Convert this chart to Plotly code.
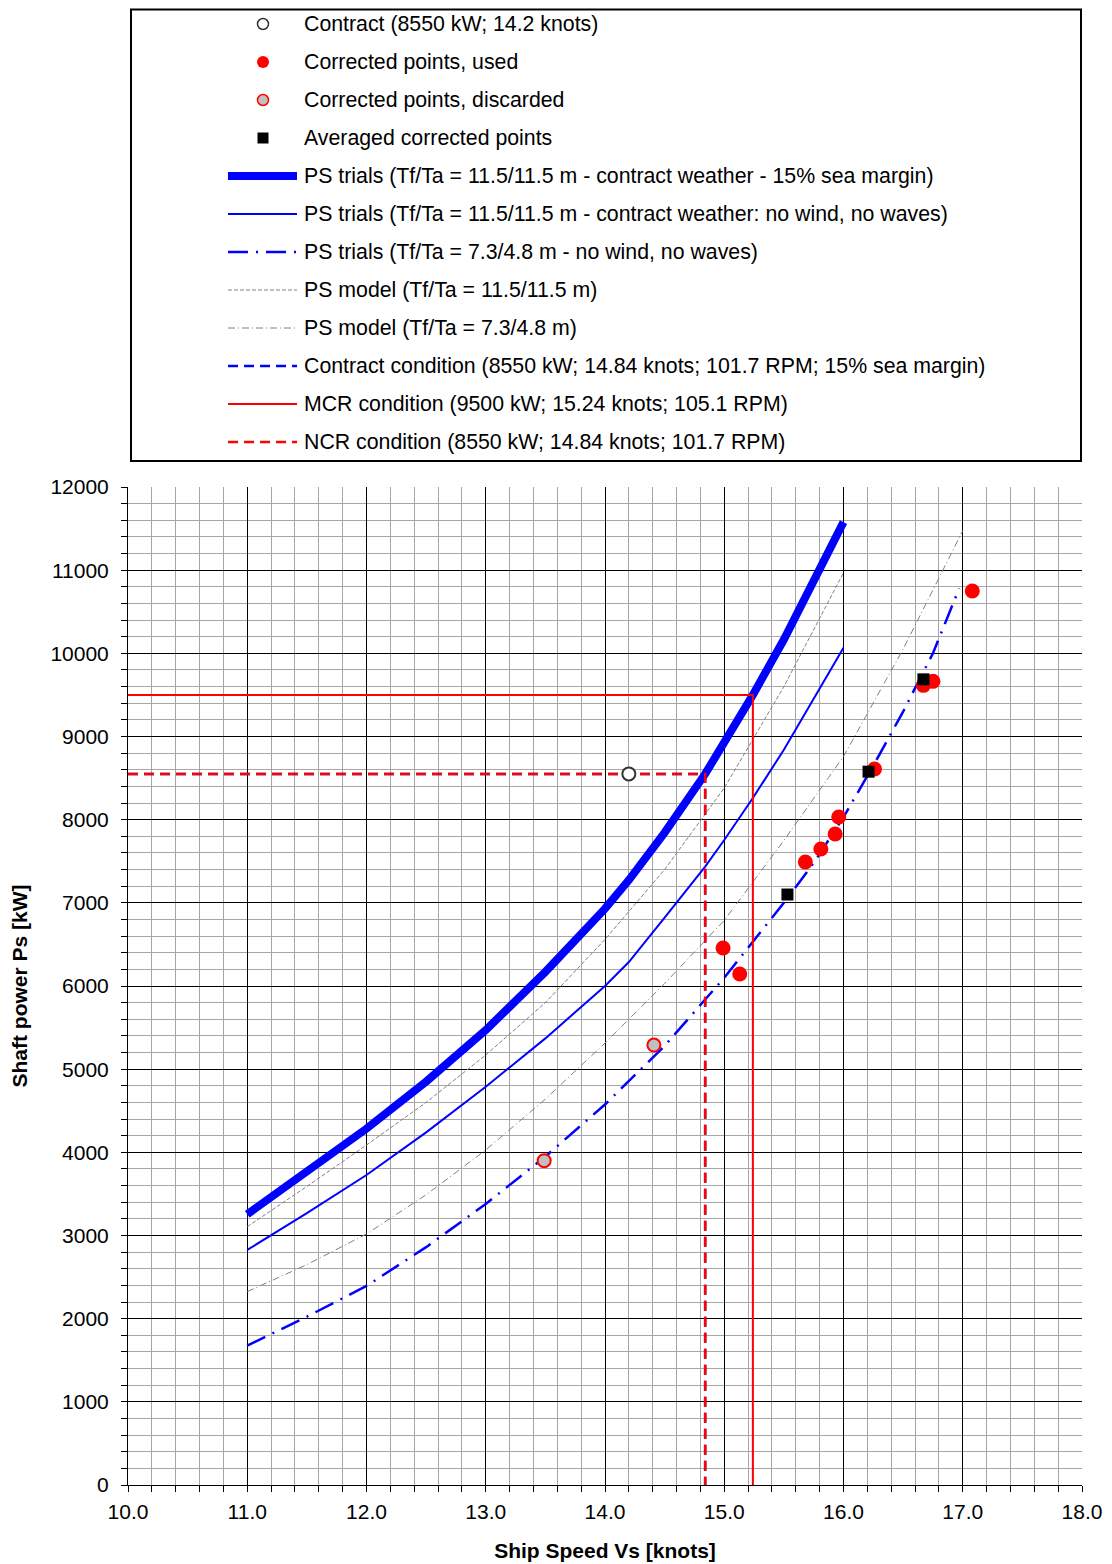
import plotly.graph_objects as go

# ---------------- data ----------------
trial_speed = [11.0, 11.5, 12.0, 12.5, 13.0, 13.5, 14.0, 14.2, 14.5, 14.84, 15.0, 15.24, 15.5, 16.0]
trial_sea_margin = [3255, 3760, 4285, 4850, 5470, 6170, 6930, 7274, 7845, 8550, 8918, 9500, 10166, 11577]
trial_calm = [2826, 3270, 3727, 4240, 4789, 5370, 6000, 6288, 6822, 7435, 7755, 8261, 8840, 10067]

ballast_speed = [11.0, 11.5, 12.0, 12.5, 13.0, 13.5, 14.0, 14.5, 15.0, 15.5, 15.75, 16.0, 16.25, 16.5, 16.75, 16.97]
ballast_trial = [1675, 2024, 2393, 2860, 3379, 3950, 4575, 5280, 6100, 7000, 7480, 8030, 8650, 9300, 10000, 10780]

model_design_speed = [11.0, 11.5, 12.0, 12.5, 13.0, 13.5, 14.0, 14.5, 15.0, 15.5, 16.0]
model_design = [3106, 3590, 4088, 4600, 5170, 5800, 6560, 7400, 8380, 9600, 10970]

model_ballast_speed = [11.0, 11.5, 12.0, 12.5, 13.0, 13.5, 14.0, 14.5, 15.0, 15.5, 16.0, 16.5, 17.0]
model_ballast = [2325, 2650, 3018, 3490, 4028, 4640, 5314, 6030, 6790, 7750, 8760, 10050, 11475]

used_speed = [14.99, 15.13, 15.68, 15.81, 15.93, 15.96, 16.26, 16.67, 16.75, 17.08]
used_power = [6457, 6144, 7491, 7647, 7827, 8032, 8609, 9615, 9663, 10750]

discarded_speed = [13.49, 14.41]
discarded_power = [3900, 5290]

avg_speed = [15.53, 16.21, 16.67]
avg_power = [7100, 8577, 9687]

contract_speed = [14.2]
contract_power = [8550]

mcr_speed, mcr_power = 15.24, 9500
ncr_speed, ncr_power = 14.84, 8550
x_min, x_max = 10.0, 18.0
y_min, y_max = 0, 12000

legend_labels = [
    "Contract (8550 kW; 14.2 knots)",
    "Corrected points, used",
    "Corrected points, discarded",
    "Averaged corrected points",
    "PS trials (Tf/Ta = 11.5/11.5 m - contract weather - 15% sea margin)",
    "PS trials (Tf/Ta = 11.5/11.5 m - contract weather: no wind, no waves)",
    "PS trials (Tf/Ta = 7.3/4.8 m - no wind, no waves)",
    "PS model (Tf/Ta = 11.5/11.5 m)",
    "PS model (Tf/Ta = 7.3/4.8 m)",
    "Contract condition (8550 kW; 14.84 knots; 101.7 RPM; 15% sea margin)",
    "MCR condition (9500 kW; 15.24 knots; 105.1 RPM)",
    "NCR condition (8550 kW; 14.84 knots; 101.7 RPM)",
]

FONT = "Arial, Liberation Sans, sans-serif"
BLUE = "#0000ff"
RED = "#ff0000"
GREY = "#808080"

fig = go.Figure()

# model curves
fig.add_trace(go.Scatter(x=model_design_speed, y=model_design, mode="lines",
                         line=dict(color=GREY, width=1, dash="4px,2px"), showlegend=False))
fig.add_trace(go.Scatter(x=model_ballast_speed, y=model_ballast, mode="lines",
                         line=dict(color=GREY, width=1, dash="7px,3px,1px,3px"), showlegend=False))
# trial curves
fig.add_trace(go.Scatter(x=ballast_speed, y=ballast_trial, mode="lines",
                         line=dict(color=BLUE, width=2.5, dash="20px,8px,2px,8px"), showlegend=False))
fig.add_trace(go.Scatter(x=trial_speed, y=trial_calm, mode="lines",
                         line=dict(color=BLUE, width=2), showlegend=False))
fig.add_trace(go.Scatter(x=trial_speed, y=trial_sea_margin, mode="lines",
                         line=dict(color=BLUE, width=8), showlegend=False))
# condition lines
fig.add_trace(go.Scatter(x=[x_min, ncr_speed, ncr_speed], y=[ncr_power, ncr_power, y_min], mode="lines",
                         line=dict(color=BLUE, width=2.5, dash="10px,6px"), showlegend=False))
fig.add_trace(go.Scatter(x=[x_min, mcr_speed, mcr_speed], y=[mcr_power, mcr_power, y_min], mode="lines",
                         line=dict(color=RED, width=2), showlegend=False))
fig.add_trace(go.Scatter(x=[x_min, ncr_speed, ncr_speed], y=[ncr_power, ncr_power, y_min], mode="lines",
                         line=dict(color=RED, width=2.5, dash="10px,6px"), showlegend=False))
# points
fig.add_trace(go.Scatter(x=discarded_speed, y=discarded_power, mode="markers",
                         marker=dict(size=13, color="#c0c0c0", line=dict(color=RED, width=2)), showlegend=False))
fig.add_trace(go.Scatter(x=used_speed, y=used_power, mode="markers",
                         marker=dict(size=15, color=RED, line=dict(width=0)), showlegend=False))
fig.add_trace(go.Scatter(x=avg_speed, y=avg_power, mode="markers",
                         marker=dict(size=12, color="black", symbol="square", line=dict(width=0)), showlegend=False))
fig.add_trace(go.Scatter(x=contract_speed, y=contract_power, mode="markers",
                         marker=dict(size=13, color="white", line=dict(color="#333333", width=2)), showlegend=False))

# ---------------- layout geometry (page has an 8px body margin) ----------------
OFF = 8
PL, PR, PT, PB = 128 - OFF, 1082 - OFF, 487 - OFF, 1485 - OFF
W, H = 1112 - OFF, 1564 - OFF


def px(x):
    return (x - OFF - PL) / (PR - PL)


def py(y):
    return (PB - (y - OFF)) / (PB - PT)


shapes = []
annotations = []
shapes.append(dict(type="rect", xref="paper", yref="paper", x0=px(131), x1=px(1081), y0=py(461), y1=py(9.5),
                   line=dict(color="black", width=2), fillcolor="rgba(0,0,0,0)", layer="above"))

row_y = [24 + 38 * i for i in range(len(legend_labels))]
sym_x = 263
line_x0, line_x1 = 228, 297

marker_styles = [
    dict(kind="circle", r=5.5, fill="white", edge="#333333", ew=1.5),
    dict(kind="circle", r=6, fill=RED, edge=RED, ew=0),
    dict(kind="circle", r=5.5, fill="#c0c0c0", edge=RED, ew=1.5),
    dict(kind="rect", r=5.5, fill="black", edge="black", ew=0),
]
line_styles = [
    dict(color=BLUE, width=8, dash="solid"),
    dict(color=BLUE, width=2, dash="solid"),
    dict(color=BLUE, width=2.5, dash="20px,8px,2px,8px"),
    dict(color=GREY, width=1, dash="4px,2px"),
    dict(color=GREY, width=1, dash="7px,3px,1px,3px"),
    dict(color=BLUE, width=2.5, dash="10px,6px"),
    dict(color=RED, width=2, dash="solid"),
    dict(color=RED, width=2.5, dash="10px,6px"),
]

for i, label in enumerate(legend_labels):
    yc = row_y[i]
    if i < 4:
        st = marker_styles[i]
        shapes.append(dict(type=st["kind"], xref="paper", yref="paper",
                           xsizemode="pixel", ysizemode="pixel",
                           xanchor=px(sym_x), yanchor=py(yc),
                           x0=-st["r"], x1=st["r"], y0=-st["r"], y1=st["r"],
                           fillcolor=st["fill"],
                           line=dict(color=st["edge"], width=st["ew"]), layer="above"))
    else:
        st = line_styles[i - 4]
        shapes.append(dict(type="line", xref="paper", yref="paper",
                           x0=px(line_x0), x1=px(line_x1), y0=py(yc), y1=py(yc),
                           line=dict(color=st["color"], width=st["width"], dash=st["dash"]), layer="above"))
    annotations.append(dict(xref="paper", yref="paper", x=px(302), y=py(yc), text=label,
                            showarrow=False, xanchor="left", yanchor="middle",
                            font=dict(family=FONT, size=21.3, color="black")))

fig.update_layout(
    width=W, height=H,
    margin=dict(l=PL, r=W - PR, t=PT, b=H - PB, pad=0, autoexpand=False),
    paper_bgcolor="white", plot_bgcolor="white",
    font=dict(family=FONT, size=21, color="black"),
    showlegend=False,
    shapes=shapes, annotations=annotations,
)

fig.update_xaxes(
    range=[x_min, x_max], dtick=1, tick0=10, tickformat=".1f", automargin=False,
    showgrid=True, gridcolor="black", gridwidth=1,
    ticks="outside", ticklen=6, tickcolor="black", tickwidth=1,
    showline=True, linecolor="black", linewidth=1, zeroline=False, mirror=False,
    minor=dict(dtick=0.2, showgrid=True, gridcolor="#a6a6a6", gridwidth=1,
               ticks="outside", ticklen=6, tickcolor="black", tickwidth=1),
    tickfont=dict(family=FONT, size=21, color="black"),
    ticklabelstandoff=2,
    title=dict(text="<b>Ship Speed Vs [knots]</b>", font=dict(family=FONT, size=21, color="black"), standoff=21),
)
fig.update_yaxes(
    range=[y_min, y_max], dtick=1000, tick0=0, tickformat="d", automargin=False,
    showgrid=True, gridcolor="black", gridwidth=1,
    ticks="outside", ticklen=6, tickcolor="black", tickwidth=1,
    showline=True, linecolor="black", linewidth=1, zeroline=False,
    minor=dict(dtick=200, showgrid=True, gridcolor="#a6a6a6", gridwidth=1,
               ticks="outside", ticklen=6, tickcolor="black", tickwidth=1),
    tickfont=dict(family=FONT, size=21, color="black"),
    ticklabelstandoff=8,
    title=dict(text="<b>Shaft power Ps [kW]</b>", font=dict(family=FONT, size=21, color="black"), standoff=23),
)

fig.write_html("out.html")
